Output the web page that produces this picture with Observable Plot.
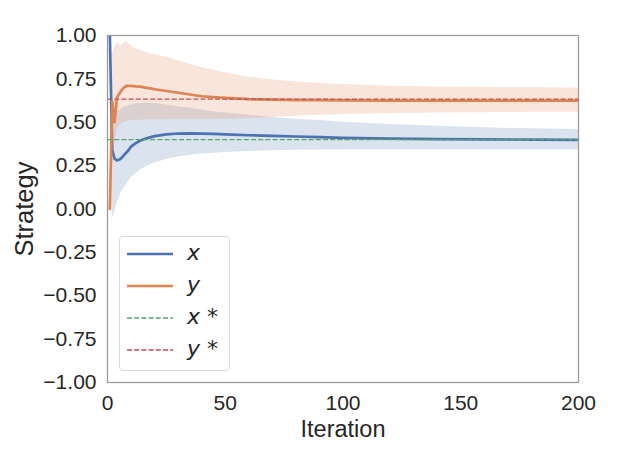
<!DOCTYPE html>
<html>
<head>
<meta charset="utf-8">
<script src="https://cdn.jsdelivr.net/npm/d3@7"></script>
<script src="https://cdn.jsdelivr.net/npm/@observablehq/plot@0.6"></script>
<style>
  html, body { margin: 0; padding: 0; background: #fff; }
  #wrap { position: relative; width: 623px; height: 467px; }
  #legend {
    position: absolute; left: 119px; top: 236px; width: 111px; height: 135px;
    box-sizing: border-box; border: 1px solid #d9d9d9; border-radius: 4px;
    background: rgba(255,255,255,0.8);
    font-family: "DejaVu Sans", sans-serif; font-size: 22px; color: #262626;
  }
  .entry { position: absolute; left: 0; height: 30px; width: 110px; }
  .entry svg { position: absolute; left: 6px; top: 0; }
  .entry span { position: absolute; left: 67px; top: 0px; line-height: 28px; white-space: nowrap; }
  .entry i { font-style: italic; }
</style>
</head>
<body>
<div id="wrap"></div>
<script>
const iteration = [1,2,3,4,5,6,7,8,9,10,12,14,16,18,20,25,30,35,40,45,50,60,70,80,90,100,120,140,160,180,200];
const xMean = [1.0,0.34,0.29,0.28,0.285,0.295,0.31,0.325,0.34,0.36,0.38,0.395,0.405,0.413,0.42,0.43,0.435,0.436,0.435,0.433,0.43,0.425,0.421,0.418,0.414,0.41,0.406,0.403,0.401,0.40,0.398];
const xLow  = [1.0,-0.06,-0.02,0.03,0.07,0.10,0.12,0.14,0.16,0.18,0.205,0.225,0.24,0.255,0.265,0.285,0.30,0.31,0.317,0.322,0.326,0.332,0.336,0.339,0.34,0.341,0.342,0.342,0.342,0.342,0.341];
const xHigh = [1.0,0.62,0.57,0.56,0.565,0.575,0.585,0.59,0.595,0.60,0.605,0.608,0.61,0.61,0.608,0.60,0.59,0.58,0.57,0.56,0.553,0.54,0.528,0.518,0.51,0.50,0.487,0.477,0.468,0.462,0.458];
const yMean = [0.0,0.62,0.50,0.64,0.665,0.685,0.70,0.71,0.71,0.71,0.707,0.705,0.70,0.695,0.69,0.68,0.67,0.66,0.65,0.645,0.64,0.633,0.63,0.628,0.627,0.626,0.625,0.625,0.625,0.625,0.625];
const yLow  = [0.0,0.26,0.38,0.45,0.48,0.49,0.50,0.505,0.507,0.51,0.511,0.512,0.513,0.513,0.513,0.514,0.514,0.515,0.515,0.515,0.516,0.52,0.528,0.535,0.54,0.544,0.55,0.553,0.555,0.557,0.558];
const yHigh = [0.0,0.88,0.93,0.96,0.95,0.94,0.955,0.965,0.955,0.94,0.925,0.915,0.905,0.895,0.89,0.875,0.855,0.835,0.815,0.80,0.785,0.76,0.745,0.732,0.725,0.718,0.708,0.703,0.70,0.699,0.698];
const xStar = 0.4;
const yStar = 0.633;
const xTicks = [0, 50, 100, 150, 200];
const yTicks = [-1, -0.75, -0.5, -0.25, 0, 0.25, 0.5, 0.75, 1];

const colors = {x: "#4c72b0", y: "#dd8452", xs: "#55a868", ys: "#c44e52"};
const rows = iteration.map((it, i) => ({it, xm: xMean[i], xl: xLow[i], xh: xHigh[i], ym: yMean[i], yl: yLow[i], yh: yHigh[i]}));

const font = '"Liberation Sans", Arial, sans-serif';

const chart = Plot.plot({
  width: 623, height: 467,
  marginLeft: 107, marginRight: 45, marginTop: 35, marginBottom: 85,
  style: {fontFamily: font, fontSize: "21px", color: "#262626", background: "#fff"},
  x: {domain: [0, 200], ticks: xTicks, tickSize: 0, tickPadding: 13, label: null},
  y: {domain: [-1, 1], ticks: yTicks, tickSize: 0, tickPadding: 11, tickFormat: d3.format(".2f"), label: null},
  marks: [
    Plot.areaY(rows, {x: "it", y1: "xl", y2: "xh", fill: colors.x, fillOpacity: 0.2, clip: true}),
    Plot.areaY(rows, {x: "it", y1: "yl", y2: "yh", fill: colors.y, fillOpacity: 0.2, clip: true}),
    Plot.line(rows, {x: "it", y: "xm", stroke: colors.x, strokeWidth: 2.7, clip: true}),
    Plot.line(rows, {x: "it", y: "ym", stroke: colors.y, strokeWidth: 2.7, clip: true}),
    Plot.ruleY([xStar], {x1: 0, x2: 200, stroke: colors.xs, strokeWidth: 1.3, strokeDasharray: "5,2.2"}),
    Plot.ruleY([yStar], {x1: 0, x2: 200, stroke: colors.ys, strokeWidth: 1.3, strokeDasharray: "5,2.2"}),
    Plot.frame({stroke: "#999", strokeWidth: 1.25}),
    Plot.text(["Iteration"], {frameAnchor: "bottom", lineAnchor: "bottom", textAnchor: "middle", dy: 54, fontSize: 23.5, fill: "#262626"}),
    Plot.text(["Strategy"], {frameAnchor: "left", lineAnchor: "bottom", textAnchor: "middle", dx: -75, rotate: -90, fontSize: 25.5, fill: "#262626"})
  ]
});

const wrap = document.getElementById("wrap");
wrap.appendChild(chart);

const legendItems = [
  {label: "<i>x</i>", color: colors.x, width: 2.7, dash: null},
  {label: "<i>y</i>", color: colors.y, width: 2.7, dash: null},
  {label: "<i>x</i> *", color: colors.xs, width: 1.3, dash: "5,2.2"},
  {label: "<i>y</i> *", color: colors.ys, width: 1.3, dash: "5,2.2"}
];
const legend = document.createElement("div");
legend.id = "legend";
legendItems.forEach((d, i) => {
  const e = document.createElement("div");
  e.className = "entry";
  e.style.top = (2 + i * 32) + "px";
  e.innerHTML = `<svg width="48" height="30"><line x1="1" x2="47" y1="15" y2="15" stroke="${d.color}" stroke-width="${d.width}" ${d.dash ? `stroke-dasharray="${d.dash}"` : ""}/></svg><span>${d.label}</span>`;
  legend.appendChild(e);
});
wrap.appendChild(legend);
</script>
</body>
</html>
